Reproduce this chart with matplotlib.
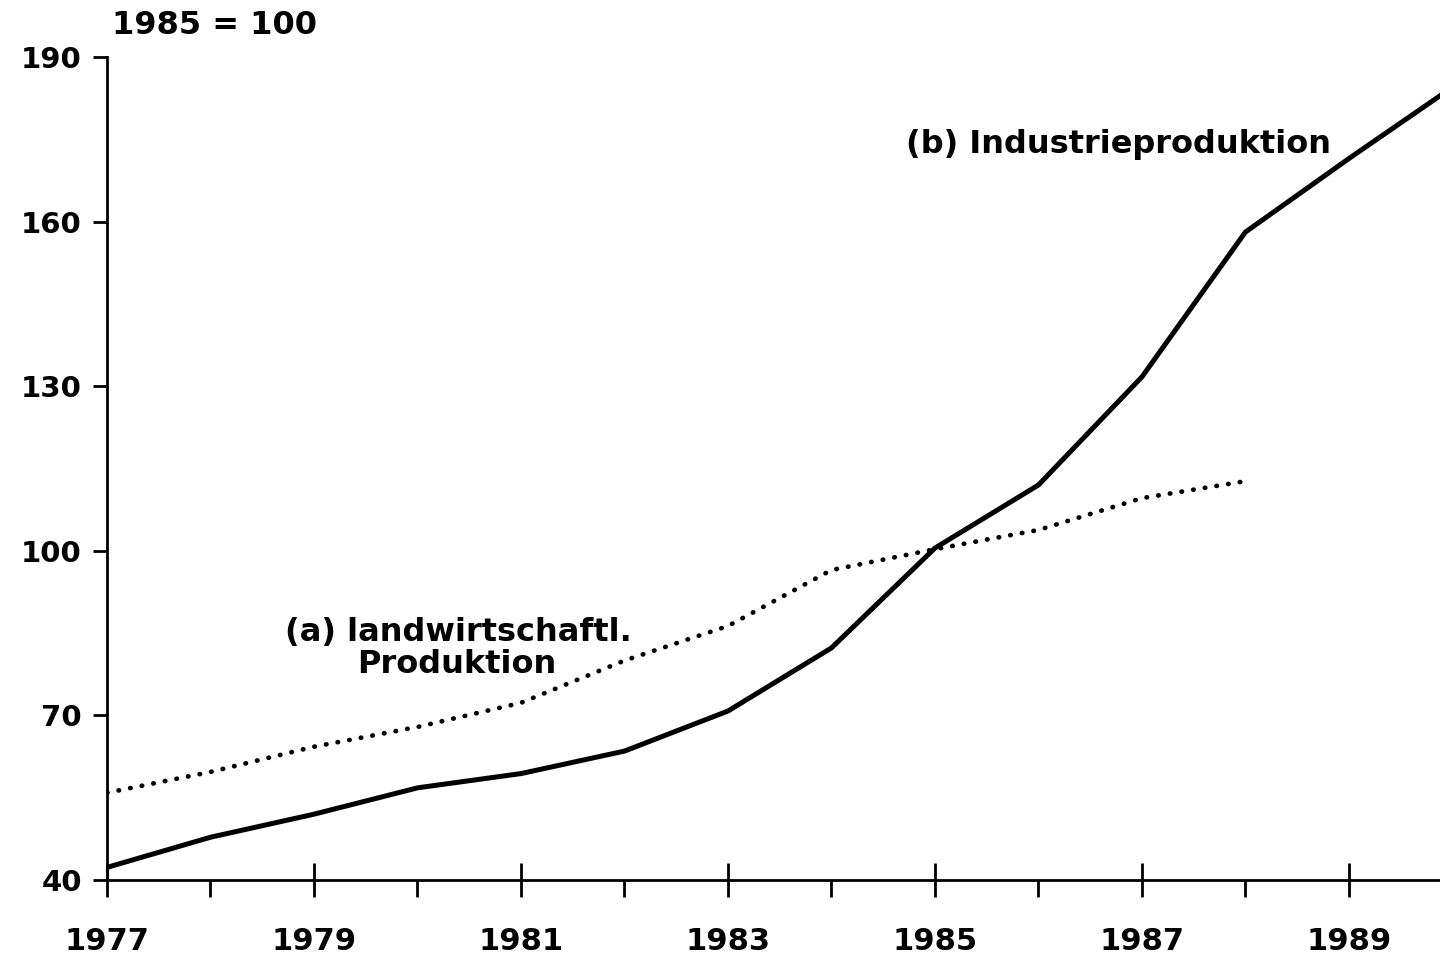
import matplotlib.pyplot as plt

# Index values, 1985 = 100
years_ind = [1977, 1978, 1979, 1980, 1981, 1982, 1983, 1984, 1985, 1986, 1987, 1988, 1989, 1990]
industrie = [42.3, 47.8, 52.0, 56.8, 59.4, 63.5, 70.8, 82.3, 100.5, 112.0, 131.7, 158.1, 171.5, 184.5]

years_agr = [1977, 1978, 1979, 1980, 1981, 1982, 1983, 1984, 1985, 1986, 1987, 1988]
landwirtschaft = [55.9, 59.7, 64.3, 67.9, 72.3, 80.0, 86.3, 96.5, 100.3, 103.8, 109.6, 112.7]

yticks = [40, 70, 100, 130, 160, 190]
xticks_major = [1977, 1979, 1981, 1983, 1985, 1987, 1989]
xticks_minor = [1978, 1980, 1982, 1984, 1986, 1988]

plt.rcParams['font.family'] = ['DejaVu Sans']
plt.rcParams['font.weight'] = 'bold'

fig = plt.figure(figsize=(14.4, 9.6), dpi=100)
ax = fig.add_axes([0.0743, 0.0833, 0.9257, 0.8573])

ax.plot(years_ind, industrie, color='black', lw=3.6, solid_joinstyle='round')
ax.plot(years_agr, landwirtschaft, color='black', lw=3.4,
        linestyle=(0, (0.1, 2.4)), dash_capstyle='round')

ax.set_xlim(1977, 1989.88)
ax.set_ylim(40, 190)

ax.spines['top'].set_visible(False)
ax.spines['right'].set_visible(False)
ax.spines['left'].set_linewidth(2)
ax.spines['bottom'].set_linewidth(2)

ax.set_yticks(yticks)
ax.set_yticklabels([str(v) for v in yticks], fontsize=21)
ax.tick_params(axis='y', direction='out', length=10, width=2, pad=8)

ax.set_xticks(xticks_major)
ax.set_xticks(xticks_minor, minor=True)
ax.set_xticklabels([str(v) for v in xticks_major], fontsize=22)
ax.tick_params(axis='x', which='major', direction='inout', length=24, width=2, pad=22)
ax.tick_params(axis='x', which='minor', direction='out', length=12, width=2)

fig.text(0.078, 0.973, '1985 = 100', fontsize=23, ha='left', va='center')

ax.text(1984.72, 174.0, '(b) Industrieproduktion', fontsize=23, ha='left', va='center')
ax.text(1978.72, 85.2, '(a) landwirtschaftl.', fontsize=23, ha='left', va='center')
ax.text(1979.42, 79.2, 'Produktion', fontsize=23, ha='left', va='center')

fig.savefig('out.png', dpi=100)
